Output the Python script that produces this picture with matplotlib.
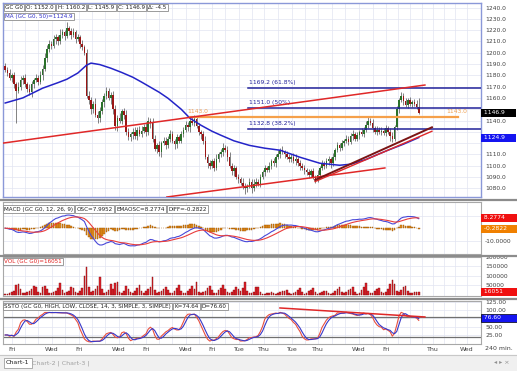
import numpy as np
import pandas as pd
import matplotlib
matplotlib.use("Agg")
import matplotlib.pyplot as plt

# 240 min bars of GC G0 (close, per bar)
closes = [
    1185, 1182, 1178, 1180, 1172, 1166, 1170, 1176, 1178, 1172,
    1168, 1165, 1172, 1176, 1178, 1174, 1180, 1186, 1195, 1203,
    1208, 1206, 1212, 1214, 1210, 1216, 1218, 1215, 1222, 1219,
    1216, 1218, 1212, 1214, 1208, 1205, 1200, 1162, 1158, 1150,
    1155, 1145, 1142, 1148, 1156, 1162, 1166, 1160, 1163, 1150,
    1135, 1142, 1140, 1148, 1145, 1130, 1125, 1128, 1130, 1126,
    1132, 1128, 1131, 1134, 1130, 1140, 1138, 1124, 1115, 1118,
    1112, 1120, 1122, 1118, 1124, 1128, 1122, 1119, 1125, 1122,
    1128, 1132, 1136, 1134, 1140, 1138, 1141, 1135, 1130, 1128,
    1122, 1108, 1102, 1100, 1104, 1098, 1106, 1110, 1112, 1116,
    1114, 1108, 1100, 1095, 1098, 1090, 1088, 1085, 1082, 1080,
    1082, 1086, 1080, 1084, 1086, 1084, 1090, 1094, 1098, 1096,
    1100, 1104, 1102, 1108, 1110, 1114, 1112, 1110, 1108, 1106,
    1108, 1104, 1106, 1102, 1100, 1098, 1096, 1094, 1092, 1095,
    1090, 1088, 1092, 1098, 1102, 1100, 1104, 1106, 1102, 1108,
    1114, 1118, 1116, 1120, 1122, 1124, 1121, 1126, 1128, 1124,
    1127, 1130, 1128, 1132, 1136, 1140, 1138, 1133, 1130, 1132,
    1130, 1131, 1129, 1133, 1130, 1126, 1124, 1134, 1150, 1158,
    1162, 1157, 1154, 1158, 1155, 1156, 1155, 1152, 1146.9,
]
first_open = 1188

# wick sizes above / below the candle body
wick_up = [
    3, 2, 4, 2, 3, 2, 4, 3, 2, 3,
    2, 4, 3, 2, 3, 2, 4, 3, 5, 4,
    3, 2, 4, 3, 2, 5, 3, 2, 5, 2,
    3, 4, 2, 3, 2, 3, 2, 3, 4, 3,
    2, 5, 3, 4, 3, 2, 4, 3, 2, 3,
    4, 3, 5, 2, 3, 4, 3, 2, 3, 4,
    2, 3, 4, 3, 5, 3, 2, 4, 3, 2,
    4, 2, 3, 3, 2, 4, 3, 2, 3, 2,
    3, 2, 4, 3, 2, 3, 4, 2, 3, 2,
    3, 4, 2, 3, 2, 3, 4, 2, 3, 4,
    2, 3, 4, 2, 3, 2, 3, 2, 4, 3,
    2, 3, 2, 4, 3, 2, 3, 2, 3, 2,
    3, 2, 3, 2, 4, 2, 3, 2, 3, 2,
    2, 3, 4, 2, 3, 2, 3, 2, 3, 2,
    3, 2, 4, 2, 3, 2, 3, 3, 2, 3,
    2, 3, 2, 3, 2, 3, 2, 3, 4, 2,
    3, 2, 3, 2, 4, 3, 2, 3, 2, 3,
    2, 3, 2, 3, 2, 3, 4, 2, 3, 2,
    3, 2, 3, 2, 3, 2, 3, 3, 8.2,
]
wick_dn = [
    2, 3, 2, 4, 3, 28, 2, 3, 4, 2,
    3, 2, 4, 3, 2, 3, 2, 4, 2, 3,
    2, 3, 2, 4, 3, 2, 3, 4, 2, 3,
    4, 2, 3, 2, 4, 3, 2, 2, 3, 4,
    3, 2, 4, 3, 2, 4, 3, 2, 5, 4,
    3, 4, 2, 3, 4, 3, 2, 3, 4, 2,
    3, 2, 3, 2, 4, 3, 5, 3, 2, 4,
    3, 4, 2, 3, 2, 3, 2, 4, 3, 2,
    2, 3, 2, 3, 4, 2, 3, 2, 3, 4,
    3, 2, 4, 3, 2, 3, 2, 3, 2, 3,
    2, 4, 2, 3, 4, 2, 3, 2, 3, 5,
    3, 2, 4, 2, 3, 2, 3, 2, 3, 2,
    2, 3, 2, 3, 2, 3, 2, 3, 2, 3,
    3, 2, 3, 2, 4, 2, 3, 2, 3, 2,
    2, 3, 2, 3, 2, 3, 2, 3, 4, 2,
    3, 2, 3, 2, 3, 2, 3, 2, 3, 2,
    2, 3, 2, 3, 2, 3, 2, 3, 2, 3,
    2, 3, 2, 3, 2, 4, 3, 2, 2, 3,
    2, 3, 2, 3, 2, 3, 2, 2, 1.0,
]

# volume in thousands
volume_k = [
    6, 5, 8, 12, 20, 50, 55, 28, 10, 8,
    12, 18, 30, 45, 40, 12, 10, 40, 45, 30,
    10, 8, 14, 22, 35, 60, 25, 8, 12, 20,
    42, 38, 15, 10, 18, 35, 97, 145, 40, 15,
    18, 30, 45, 92, 30, 10, 14, 25, 55, 30,
    60, 66, 12, 10, 20, 45, 30, 12, 10, 20,
    35, 50, 20, 10, 18, 30, 40, 92, 25, 10,
    12, 20, 30, 40, 25, 8, 10, 22, 35, 50,
    20, 8, 10, 18, 30, 45, 30, 66, 15, 8,
    12, 20, 35, 45, 25, 8, 10, 25, 35, 50,
    30, 12, 8, 12, 25, 40, 30, 20, 35, 66,
    20, 8, 10, 15, 40, 40, 12, 5, 6, 8,
    10, 15, 8, 6, 10, 15, 20, 18, 25, 10,
    5, 8, 15, 25, 35, 12, 6, 10, 20, 25,
    35, 12, 6, 8, 15, 18, 22, 10, 5, 10,
    20, 30, 40, 15, 8, 12, 25, 30, 40, 12,
    6, 10, 25, 40, 60, 20, 8, 10, 20, 30,
    35, 12, 8, 15, 30, 55, 76, 55, 20, 12,
    25, 40, 45, 20, 8, 10, 12, 15, 16.051,
]

# MA(50) at some bars
ma_idx = [0, 8, 17, 24, 28, 33, 37, 39, 43, 48, 53, 58, 62, 66, 70, 74, 80, 84, 89, 94, 98,
          104, 111, 118, 125, 134, 143, 152, 157, 164, 170, 174, 181, 188]
ma_val = [1155.5, 1160, 1168.6, 1173.5, 1176.5, 1182, 1189, 1190.8, 1189.5, 1186.3, 1182.5,
          1178.3, 1174, 1169.5, 1165, 1159.7, 1150, 1142, 1135.8, 1130.5, 1127,
          1122, 1118, 1115.5, 1113.7, 1107.5, 1102.2, 1100.4, 1101.3, 1105.5, 1110.5,
          1113.7, 1119, 1124.9]

# drawn objects
fib_levels = [1169.2, 1151.0, 1132.8]
fib_labels = ["1169.2 (61.8%)", "1151.0 (50%)", "1132.8 (38.2%)"]
hline_level = 1143.0
trend_long = ([-1, 190.8], [1120.0, 1171.4])
trend_low = ([73.5, 172.6], [1072.3, 1098.0])
trend_up = ([140.9, 194.0], [1087.4, 1134.0])
trend_up2 = ([140.9, 194.0], [1086.0, 1130.5])
ssto_trend = ([124.9, 190.8], [106.0, 79.0])

# time axis
day_idx = [3, 9, 15, 21.3, 27.4, 33.5, 39.5, 45.5, 51.7, 58, 64, 70, 76, 82.2, 88, 94, 100,
           106.3, 112, 117.6, 124, 130.4, 136.3, 142.2, 148.4, 154.6, 160.8, 167, 173.1,
           178.5, 184, 189.5, 194.5, 199.5, 204.5, 209.9]
tick_idx = [3.1, 21.3, 33.5, 51.7, 64, 82.2, 94, 106.3, 117.6, 130.4, 142.2, 160.8, 173.1, 194.5, 209.9]
tick_lab = ["Fri", "Wed", "Fri", "Wed", "Fri", "Wed", "Fri", "Tue", "Thu", "Tue", "Thu", "Wed", "Fri", "Thu", "Wed"]

# ---- derived series ----
c = pd.Series(closes, dtype=float)
o = pd.Series([first_open] + closes[:-1], dtype=float)
h = np.maximum(o, c) + np.array(wick_up)
l = np.minimum(o, c) - np.array(wick_dn)
x = np.arange(len(c))

osc = c.ewm(span=12, adjust=False).mean() - c.ewm(span=26, adjust=False).mean()
emaosc = osc.ewm(span=9, adjust=False).mean()
diff = osc - emaosc

ll = l.rolling(14, min_periods=1).min()
hh = h.rolling(14, min_periods=1).max()
fast_k = 100 * (c - ll) / (hh - ll)
k_line = fast_k.rolling(3, min_periods=1).mean()
d_line = k_line.rolling(3, min_periods=1).mean()

# ---- figure ----
W, H = 517, 371
plt.rcParams["font.family"] = "DejaVu Sans"
fig = plt.figure(figsize=(W / 100, H / 100), dpi=100)


def rect(y0, y1, x0=3, x1=481):
    return [x0 / W, 1 - y1 / H, (x1 - x0) / W, (y1 - y0) / H]


ax1 = fig.add_axes(rect(3, 197))
ax2 = fig.add_axes(rect(202, 254))
ax3 = fig.add_axes(rect(257, 296))
ax4 = fig.add_axes(rect(301, 344))

grid_c = "#e2e4f2"
lab_c = "#404040"
for ax in (ax1, ax2, ax3, ax4):
    ax.set_xlim(-1, 216.3)
    ax.yaxis.tick_right()
    ax.tick_params(axis="y", length=0, pad=3, labelsize=4.3, colors=lab_c)
    ax.tick_params(axis="x", length=0)
    ax.set_xticks([])
    ax.vlines(day_idx, -1e7, 1e7, color=grid_c, lw=0.5, zorder=0)
    ax.grid(True, axis="y", color=grid_c, lw=0.5)
    ax.set_axisbelow(True)
    for s in ax.spines.values():
        s.set_color("#a8a8a8")
        s.set_linewidth(0.8)
for s in ax1.spines.values():
    s.set_color("#8a98d8")
    s.set_linewidth(1.0)

# main price panel
main_ticks = np.arange(1080, 1241, 10)
ax1.set_ylim(1072.3, 1244)
ax1.set_yticks(main_ticks)
ax1.set_yticklabels(["" if v in (1150, 1130, 1120) else f"{v:.1f}" for v in main_ticks])
up = c >= o
ax1.vlines(x, l, h, color="#505050", lw=0.5, zorder=3)
body_bot = np.minimum(o, c)
body_h = np.maximum(np.abs(c - o), 0.5)
ax1.bar(x[up], body_h[up], bottom=body_bot[up], width=0.75, color="#2a702a", lw=0, zorder=4)
ax1.bar(x[~up], body_h[~up], bottom=body_bot[~up], width=0.75, color="#9a1616", lw=0, zorder=4)

ax1.plot(ma_idx, ma_val, color="#2424c8", lw=1.1, zorder=5)
for lv, lb in zip(fib_levels, fib_labels):
    ax1.plot([110.4, 216.3], [lv, lv], color="#22229a", lw=1.1, zorder=5)
    ax1.annotate(lb, (111, lv), xytext=(0, 2), textcoords="offset points",
                 fontsize=4.3, color="#22229a", va="bottom")
ax1.plot([84, 205.8], [hline_level, hline_level], color="#f5a04a", lw=1.6, zorder=5)
ax1.annotate("1143.0", (83, hline_level), xytext=(0, 2.5), textcoords="offset points",
             fontsize=4.3, color="#f0a050", va="bottom")
ax1.annotate("1143.0", (210, hline_level), xytext=(0, 2.5), textcoords="offset points",
             fontsize=4.3, color="#f0a050", va="bottom", ha="right")
ax1.plot(*trend_long, color="#e02828", lw=1.1, zorder=6)
ax1.plot(*trend_low, color="#e02828", lw=1.1, zorder=6)
ax1.plot(*trend_up2, color="#e02828", lw=1.0, zorder=6)
ax1.plot(*trend_up, color="#7a1414", lw=1.4, zorder=6)

box_kw = dict(fontsize=4.3, va="center", ha="left", clip_on=False, zorder=20)
ax1.text(1.003, 1146.9, " 1146.9     ", transform=ax1.get_yaxis_transform(), color="white",
         bbox=dict(boxstyle="square,pad=0.25", fc="black", ec="none"), **box_kw)
ax1.text(1.003, 1124.9, " 1124.9     ", transform=ax1.get_yaxis_transform(), color="white",
         bbox=dict(boxstyle="square,pad=0.25", fc="#1414f0", ec="none"), **box_kw)

# MACD panel
ax2.set_ylim(-20.6, 21.0)
ax2.set_yticks([-10, 10])
ax2.set_yticklabels(["-10.0000", ""])
ax2.bar(x, diff, width=0.7, color="#e8901c", edgecolor="#9a5200", lw=0.3, zorder=3)
ax2.plot(x, osc, color="#4848d8", lw=0.8, zorder=4)
ax2.plot(x, emaosc, color="#e83c3c", lw=0.8, zorder=4)
ax2.text(1.003, 8.2774, " 8.2774      ", transform=ax2.get_yaxis_transform(), color="white",
         bbox=dict(boxstyle="square,pad=0.25", fc="#f01010", ec="none"), **box_kw)
ax2.text(1.003, -0.2822, " -0.2822     ", transform=ax2.get_yaxis_transform(), color="white",
         bbox=dict(boxstyle="square,pad=0.25", fc="#f08000", ec="none"), **box_kw)

# volume panel
vol = np.array(volume_k) * 1000
ax3.set_ylim(-7000, 197000)
ax3.set_yticks([50000, 100000, 150000, 200000])
ax3.set_yticklabels(["50000", "100000", "150000", "200000"])
ax3.bar(x, vol, width=0.7, color="#e0202a", edgecolor="#801010", lw=0.3, zorder=3)
ax3.text(1.003, 16051, " 16051        ", transform=ax3.get_yaxis_transform(), color="white",
         bbox=dict(boxstyle="square,pad=0.25", fc="#f01010", ec="none"), **box_kw)

# slow stochastic panel
ax4.set_ylim(-2.1, 126.9)
ax4.set_yticks([25, 50, 75, 100, 125])
ax4.set_yticklabels(["25.00", "50.00", "", "100.00", "125.00"])
ax4.axhline(80, color="#707070", lw=0.9, zorder=2)
ax4.axhline(20, color="#707070", lw=0.9, zorder=2)
ax4.plot(x, k_line, color="#e85040", lw=0.8, zorder=4)
ax4.plot(x, d_line, color="#3838c8", lw=0.8, zorder=4)
ax4.plot(*ssto_trend, color="#e02828", lw=1.1, zorder=5)
ax4.text(1.003, 76.60, " 76.60        ", transform=ax4.get_yaxis_transform(), color="white",
         bbox=dict(boxstyle="square,pad=0.25", fc="#1414f0", ec="black", lw=0.5), **box_kw)
ax4.set_xticks(tick_idx)
ax4.set_xticklabels(tick_lab, fontsize=4.5, color=lab_c)
ax4.tick_params(axis="x", pad=2.5)

# panel splitters
for yy in (199.5, 255.5, 298.5):
    fig.add_artist(plt.Line2D([0, 1], [1 - yy / H, 1 - yy / H], color="#8c8c8c", lw=1.6))

# header boxes, laid out left to right
renderer = fig.canvas.get_renderer()
hdr_box = dict(boxstyle="square,pad=0.2", fc="white", ec="#8c8c8c", lw=0.6)


def hdr_row(px, py, items):
    for txt, color in items:
        t = fig.text(px / W, 1 - py / H, txt, fontsize=4.1, color=color, va="center",
                     ha="left", bbox=hdr_box, zorder=30)
        px = t.get_window_extent(renderer).x1 + 3.5


dark = "#202020"
hdr_row(5, 7.5, [("GC G0", dark), ("O: 1152.0", dark), ("H: 1160.2", dark),
                 ("L: 1145.9", dark), ("C: 1146.9", dark), ("Δ: -4.5", dark)])
hdr_row(5, 16.5, [("MA (GC G0, 50)=1124.9", "#3030c8")])
hdr_row(4, 209, [("MACD (GC G0, 12, 26, 9)", dark), ("OSC=7.9952", dark),
                 ("EMAOSC=8.2774", dark), ("DIFF=-0.2822", dark)])
hdr_row(4, 261.5, [("VOL (GC G0)=16051", "#e02020")])
hdr_row(4, 306.5, [("SSTO (GC G0, HIGH, LOW, CLOSE, 14, 3, SIMPLE, 3, SIMPLE)", dark),
                   ("K=74.64", dark), ("D=76.60", dark)])

fig.text(485 / W, 1 - 349 / H, "240 min.", fontsize=4.5, color=lab_c, va="center", ha="left")

# tab strip
fig.add_artist(plt.Rectangle((0, 0), 1, 1 - 355 / H, color="#f0f0f0", zorder=-1))
fig.add_artist(plt.Line2D([0, 1], [1 - 355 / H, 1 - 355 / H], color="#c8c8c8", lw=0.8))
fig.text(6 / W, 1 - 363 / H, "Chart-1", fontsize=4.5, color="#202020", va="center",
         bbox=dict(boxstyle="square,pad=0.35", fc="white", ec="#a0a0a0", lw=0.6))
fig.text(32 / W, 1 - 363 / H, "Chart-2 | Chart-3 |", fontsize=4.5, color="#a0a0a0", va="center")
fig.text(494 / W, 1 - 363 / H, "◂ ▸ ×", fontsize=4.5, color="#909090", va="center")

fig.savefig("out.png", dpi=100)
